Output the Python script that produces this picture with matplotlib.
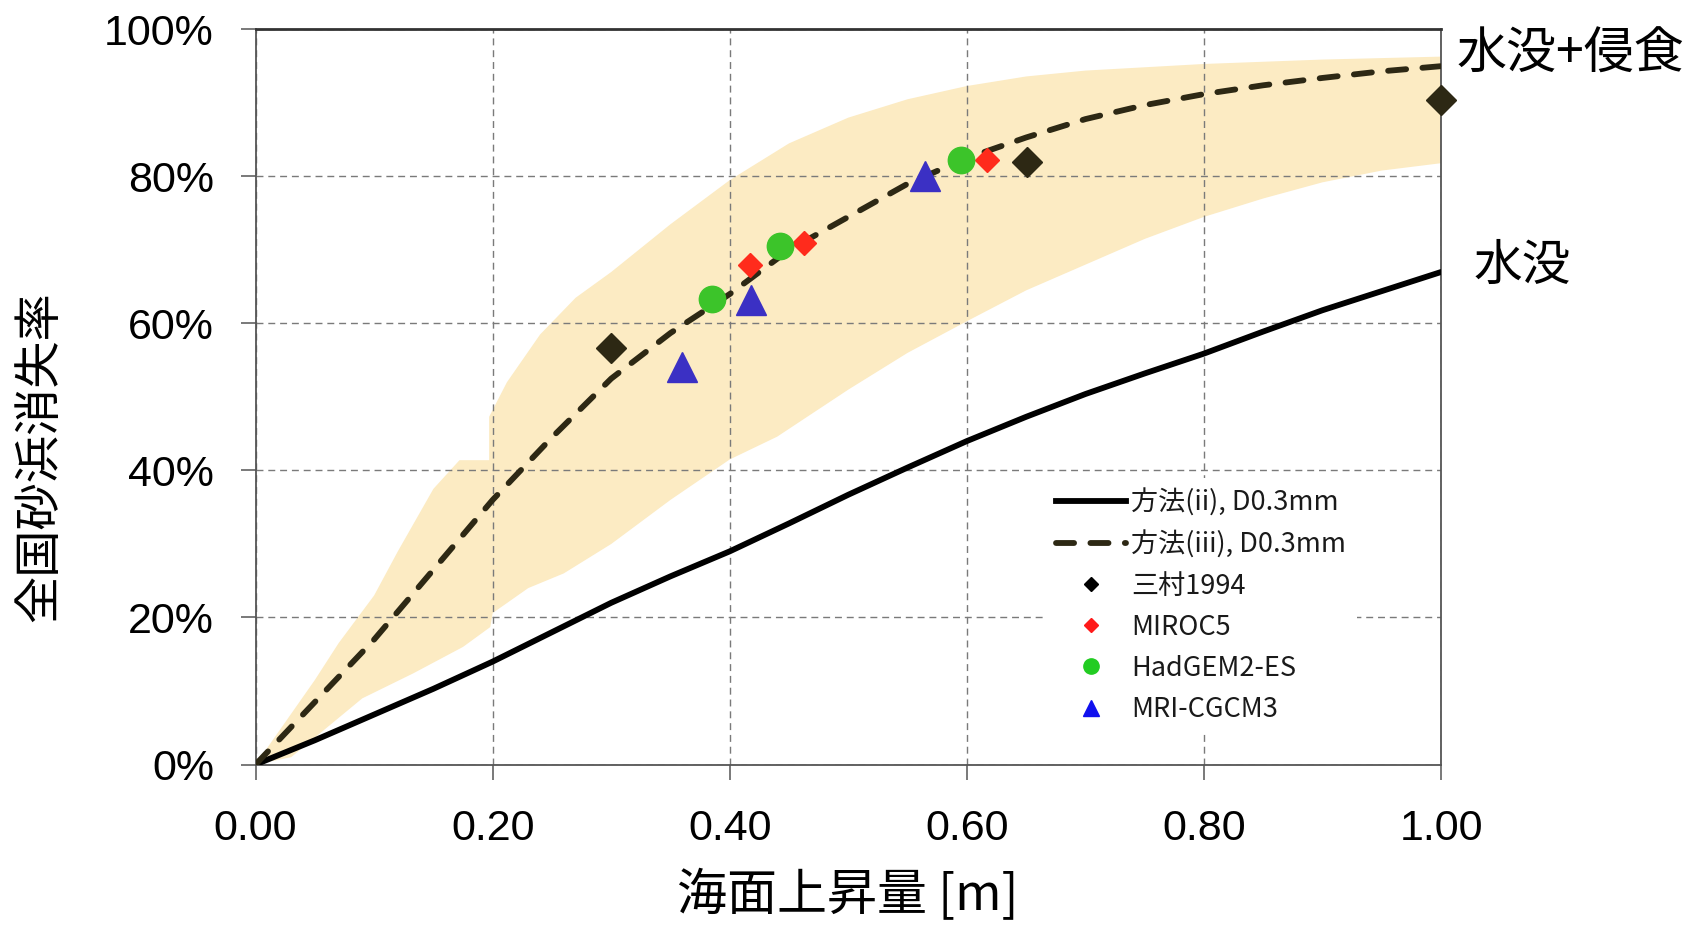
"""Beach loss rate vs. sea level rise, with model scatter and uncertainty band."""

import matplotlib

matplotlib.use("Agg")
import matplotlib.pyplot as plt
from matplotlib import ticker
from matplotlib.lines import Line2D

plt.rcParams["font.family"] = ["Liberation Sans", "Noto Sans CJK JP", "DejaVu Sans"]

JP = ["Noto Sans CJK JP", "DejaVu Sans"]

# curves: sea level rise [m] -> loss rate [%]
rise = [0.0, 0.05, 0.1, 0.15, 0.2, 0.25, 0.3, 0.35, 0.4, 0.45, 0.5,
        0.55, 0.6, 0.65, 0.7, 0.75, 0.8, 0.85, 0.9, 0.95, 1.0]
method_ii = [0, 3.3, 6.8, 10.3, 14.0, 18.0, 22.0, 25.6, 29.0, 32.8, 36.7,
             40.4, 44.0, 47.3, 50.4, 53.2, 55.9, 58.9, 61.8, 64.4, 67.0]
method_iii = [0, 8.5, 17.0, 26.5, 36.0, 44.5, 52.5, 58.7, 64.0, 70.0, 74.5,
              79.0, 82.5, 85.3, 87.8, 89.7, 91.2, 92.4, 93.4, 94.3, 95.0]

# uncertainty band edges
band_up_x = [0.0, 0.05, 0.07, 0.1, 0.12, 0.15, 0.172, 0.197, 0.197, 0.212, 0.24,
             0.27, 0.3, 0.35, 0.4, 0.45, 0.5, 0.55, 0.6, 0.65, 0.7, 0.8, 0.9, 1.0]
band_up_y = [0, 11.5, 16.5, 23, 29, 37.5, 41.4, 41.4, 47.3, 52, 58.5,
             63.5, 67, 73.5, 79.5, 84.5, 88, 90.5, 92.3, 93.6, 94.4, 95.3, 95.9, 96.3]
band_lo_x = [0.0, 0.03, 0.09, 0.133, 0.175, 0.198, 0.2, 0.23, 0.26, 0.3, 0.35,
             0.4, 0.44, 0.5, 0.55, 0.6, 0.65, 0.7, 0.75, 0.8, 0.85, 0.9, 0.95, 1.0]
band_lo_y = [0, 1, 9, 12.4, 16, 18.7, 20.6, 24, 26, 30, 36,
             41.5, 44.6, 51, 56, 60.3, 64.5, 68, 71.5, 74.5, 77, 79.2, 80.8, 81.8]

# scatter points
mimura_x = [0.300, 0.651, 1.0]
mimura_y = [56.6, 82.0, 90.4]
miroc_x = [0.417, 0.463, 0.617]
miroc_y = [67.9, 70.9, 82.2]
hadgem_x = [0.385, 0.442, 0.595]
hadgem_y = [63.3, 70.6, 82.3]
mri_x = [0.360, 0.418, 0.565]
mri_y = [54.1, 63.2, 80.1]

x_ticks = [0.0, 0.2, 0.4, 0.6, 0.8, 1.0]
y_ticks = [0, 20, 40, 60, 80, 100]

DARK = "#2d2814"
BAND = "#FCEBC3"
DASH = (3.1, 2.8)


def main() -> None:
    fig = plt.figure(figsize=(17.05, 9.25), dpi=100)
    ax = fig.add_axes([0.1499, 0.1735, 0.6953, 0.7947])

    # band polygon: upper edge then lower edge reversed
    ax.fill(band_up_x + band_lo_x[::-1], band_up_y + band_lo_y[::-1],
            color=BAND, lw=0, zorder=1)

    ax.plot(rise, method_ii, color="black", lw=4.2, zorder=3,
            solid_capstyle="round")
    ax.plot(rise, method_iii, color=DARK, lw=4.2, zorder=3,
            dashes=DASH, dash_capstyle="round")

    ax.plot(mimura_x, mimura_y, ls="none", marker="D", ms=15.5,
            color=DARK, zorder=4, clip_on=False)
    ax.plot(miroc_x, miroc_y, ls="none", marker="D", ms=12.5,
            color="#ff2b1c", zorder=4)
    ax.plot(hadgem_x, hadgem_y, ls="none", marker="o", ms=19,
            color="#3cc42a", zorder=4)
    ax.plot(mri_x, mri_y, ls="none", marker="^", ms=22,
            color="#3b30c4", zorder=4)

    ax.set_xlim(0, 1.0)
    ax.set_ylim(0, 100)
    ax.set_xticks(x_ticks)
    ax.set_yticks(y_ticks)
    ax.xaxis.set_major_formatter(ticker.FormatStrFormatter("%.2f"))
    ax.yaxis.set_major_formatter(ticker.FuncFormatter(lambda v, _: f"{v:.0f}%"))
    ax.tick_params(axis="both", direction="out", length=11, width=1.1,
                   color="#555555", labelsize=31, labelcolor="black")
    ax.tick_params(axis="x", pad=21)
    ax.tick_params(axis="y", pad=19)

    ax.grid(True, color="#7a7a7a", lw=1.0, ls=(0, (5, 3.5)))

    for side in ["left", "right", "bottom"]:
        ax.spines[side].set_color("#555555")
        ax.spines[side].set_linewidth(1.3)
    ax.spines["top"].set_color("#333333")
    ax.spines["top"].set_linewidth(2.0)

    handles = [
        Line2D([], [], color="black", lw=4.2),
        Line2D([], [], color=DARK, lw=4.2, dashes=DASH, dash_capstyle="round"),
        Line2D([], [], ls="none", marker="D", ms=7.5, color="black"),
        Line2D([], [], ls="none", marker="D", ms=7.5, color="#ff1a1a"),
        Line2D([], [], ls="none", marker="o", ms=11, color="#22cc22"),
        Line2D([], [], ls="none", marker="^", ms=12, color="#1010ee"),
    ]
    labels = ["方法(ii), D0.3mm", "方法(iii), D0.3mm", "三村1994",
              "MIROC5", "HadGEM2-ES", "MRI-CGCM3"]
    leg = ax.legend(handles, labels, loc="center left", bbox_to_anchor=(0.655, 0.216),
                    frameon=True, facecolor="white", edgecolor="none", framealpha=1.0,
                    handlelength=2.55, handletextpad=0.22,
                    labelspacing=0.52, borderpad=0.4, prop={"family": JP, "size": 19.5})
    leg.set_zorder(5)
    for t in leg.get_texts():
        t.set_color("#1a1a1a")

    ax.text(1.013, 96.5, "水没+侵食", fontsize=36, family=JP, ha="left",
            va="center", clip_on=False)
    ax.text(1.027, 67.8, "水没", fontsize=35, family=JP, ha="left",
            va="center", clip_on=False)

    fig.text(0.0235, 0.506, "全国砂浜消失率", rotation=90, fontsize=34,
             family=JP, ha="center", va="center")
    fig.text(0.4975, 0.031, "海面上昇量 [m]", fontsize=36, family=JP,
             ha="center", va="center")

    fig.savefig("out.png", dpi=100, facecolor="white")


if __name__ == "__main__":
    main()
